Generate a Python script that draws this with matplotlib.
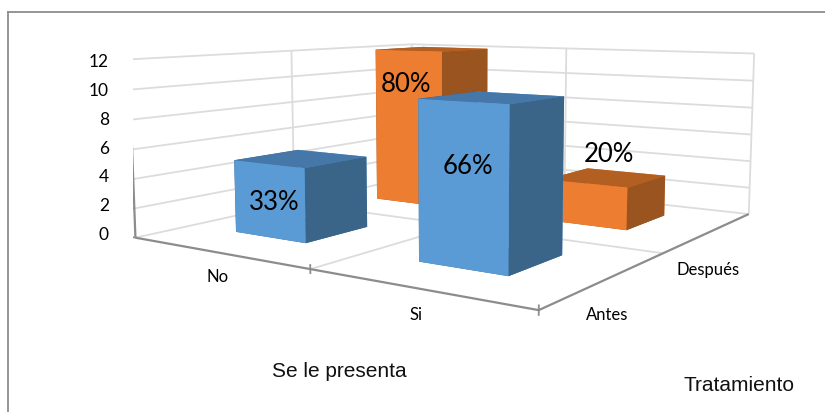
import matplotlib
matplotlib.use("Agg")
import matplotlib.pyplot as plt
import numpy as np

# Counts per treatment stage and answer
categories = ['No', 'Si']
stages = ['Antes', 'Después']
antes = [5, 10]
despues = [12, 3]
antes_labels = ['33%', '66%']
despues_labels = ['80%', '20%']
z_ticks = [0, 2, 4, 6, 8, 10, 12]

W, H = 825, 412
fig = plt.figure(figsize=(W / 100, H / 100), dpi=100)

# 3D axes, sized so the box sits where we want it on the page
size = 632.4
ax = fig.add_axes([133.47 / W, -54.34 / H, size / W, size / H], projection='3d')
ax.set_facecolor('none')
ax.set_xlim(0, 2)
ax.set_ylim(0, 2)
ax.set_zlim(0, 12)
ax.view_init(7.2423, -55.8213)
ax.set_proj_type('persp', focal_length=0.3229)
ax.set_box_aspect((1, 1.0003, 0.3831))
ax.set_axis_off()
ax.computed_zorder = False

grid = '#dcdcdc'
axis_col = '#8c8c8c'


def seg(xs, ys, zs, color=grid, lw=1.3, zo=1):
    ax.plot(xs, ys, zs, color=color, lw=lw, zorder=zo, solid_capstyle='butt')


# walls
for z in z_ticks:
    seg([0, 0], [0, 2], [z, z])
    seg([0, 2], [2, 2], [z, z])
seg([0, 0], [1, 1], [0, 12])
seg([0, 0], [2, 2], [0, 12])
seg([1, 1], [2, 2], [0, 12])
seg([2, 2], [2, 2], [0, 12])
# floor
seg([1, 1], [0, 2], [0, 0])
seg([0, 2], [1, 1], [0, 0])

# axes lines and ticks
seg([0, 0], [0, 0], [0, 12], axis_col, 1.6, 1.5)
seg([0, 2], [0, 0], [0, 0], axis_col, 1.6, 1.5)
seg([2, 2], [0, 2], [0, 0], axis_col, 1.6, 1.5)
for z in z_ticks:
    seg([-0.09, 0], [0, 0], [z, z], axis_col, 1.3, 1.5)
for x in [1, 2]:
    seg([x, x], [0, 0], [-0.3, 0.3], axis_col, 1.3, 1.5)

# bars, back row first so the front row covers it
blue = ['#3a6488', '#4577a8', '#5b9bd5', '#5b9bd5', '#3a6488', '#3a6488']
orange = ['#9a5420', '#b45f22', '#ed7d31', '#ed7d31', '#9a5420', '#9a5420']
width = 0.41
zo = 2
for row, vals, cols in [(1, despues, orange), (0, antes, blue)]:
    for i, v in enumerate(vals):
        ax.bar3d(i + 0.27, row + 0.33, 0, width, width, v, color=cols,
                 shade=False, edgecolor='none', linewidth=0, zorder=zo)
        zo += 1


def put(px, py, s, **kw):
    fig.text(px / W, 1 - py / H, s, **kw)


# tick labels
lato = dict(family='Lato', color='black')
for z, py in zip(z_ticks, [235, 206, 177, 149, 120, 91, 62]):
    put(109, py, str(z), ha='right', va='center', fontsize=12.5, **lato)
for (px, py), s in zip([(218, 277), (416, 315)], categories):
    put(px, py, s, ha='center', va='center', fontsize=12, **lato)
for (px, py), s in zip([(607, 315), (708, 270)], stages):
    put(px, py, s, ha='center', va='center', fontsize=12, **lato)

# value labels
for (px, py), s in zip([(274, 202), (468, 167)], antes_labels):
    put(px, py, s, ha='center', va='center', fontsize=18.5, **lato)
for (px, py), s in zip([(406, 84), (609, 155)], despues_labels):
    put(px, py, s, ha='center', va='center', fontsize=18.5, **lato)

# axis titles
arial = dict(family='Liberation Sans', color='#111111', fontsize=15)
put(339, 377, 'Se le presenta', ha='center', va='baseline', **arial)
put(739, 391, 'Tratamiento', ha='center', va='baseline', **arial)

# chart frame, left and top only reach the page
frame = dict(color='#8c8c8c', lw=1.3, transform=fig.transFigure)
fig.add_artist(plt.Line2D([7.5 / W, 7.5 / W], [0, 1 - 11.5 / H], **frame))
fig.add_artist(plt.Line2D([7.5 / W, 1], [1 - 11.5 / H, 1 - 11.5 / H], **frame))

fig.savefig('out.png', dpi=100)
